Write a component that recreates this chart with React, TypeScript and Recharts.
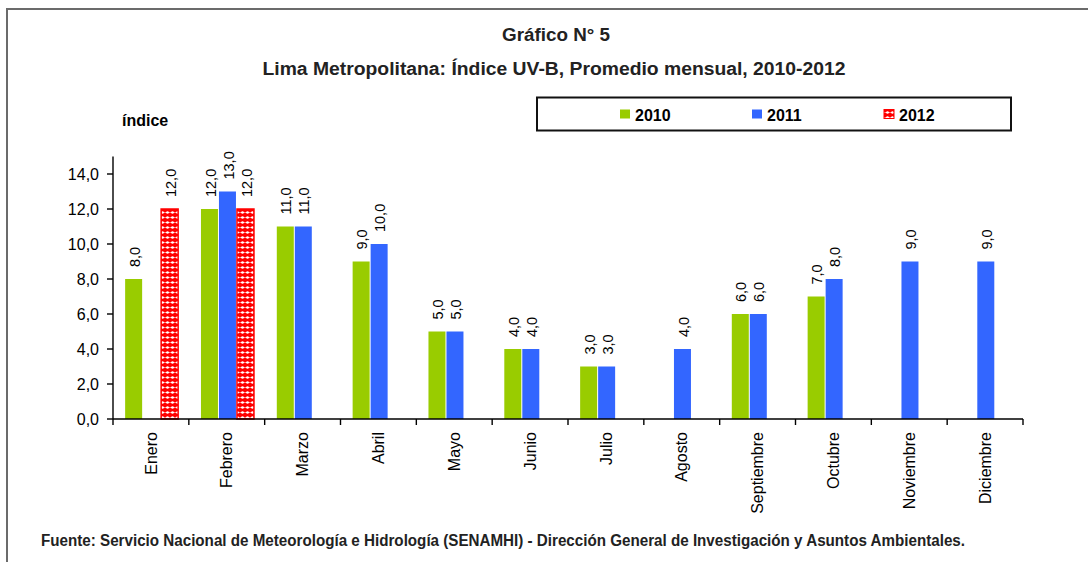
import React from 'react';
import { BarChart, Bar, XAxis, YAxis, LabelList } from 'recharts';

const months = ['Enero', 'Febrero', 'Marzo', 'Abril', 'Mayo', 'Junio', 'Julio', 'Agosto', 'Septiembre', 'Octubre', 'Noviembre', 'Diciembre'];
const uv2010: (number | null)[] = [8, 12, 11, 9, 5, 4, 3, null, 6, 7, null, null];
const uv2011: (number | null)[] = [null, 13, 11, 10, 5, 4, 3, 4, 6, 8, 9, 9];
const uv2012: (number | null)[] = [12, 12, null, null, null, null, null, null, null, null, null, null];
const yTicks = [0, 2, 4, 6, 8, 10, 12, 14];
const seriesNames = ['2010', '2011', '2012'];
const seriesColors = ['#99CC00', '#3366FF', '#FF0000'];

const data = months.map((m, i) => ({ month: m, y2010: uv2010[i], y2011: uv2011[i], y2012: uv2012[i] }));

const W = 1088;
const H = 562;
const M = { top: 156.5, right: 65, left: 53, bottom: 0 };
const YW = 60;
const XH = 143;
const plotW = W - M.left - M.right - YW;
const band = plotW / months.length;

const SANS = "'Liberation Sans', Arial, sans-serif";
const NARROW = "'Liberation Sans Narrow', 'Arial Narrow', 'Liberation Sans', Arial, sans-serif";

const fmt = (v: number) => v.toFixed(1).replace('.', ',');

const XTick = (props: any) => {
  const { x, y, payload, index } = props;
  const ay = y - 13;
  const half = band / 2;
  return (
    <g>
      <line x1={x - half} x2={x - half} y1={ay} y2={ay + 6} stroke="#000" strokeWidth={1.4} />
      {index === months.length - 1 && (
        <line x1={x + half} x2={x + half} y1={ay} y2={ay + 6} stroke="#000" strokeWidth={1.4} />
      )}
      <text
        x={x}
        y={y}
        transform={`rotate(-90 ${x} ${y})`}
        textAnchor="end"
        dy="0.35em"
        fontSize={16}
        fontFamily={SANS}
        fill="#000"
      >
        {payload.value}
      </text>
    </g>
  );
};

const ValueLabel = (props: any) => {
  const { x, y, width, value } = props;
  if (value == null) return null;
  const cx = Number(x) + Number(width) / 2 + 1;
  const ty = Number(y) - 12;
  return (
    <text
      x={cx}
      y={ty}
      transform={`rotate(-90 ${cx} ${ty})`}
      textAnchor="start"
      dy="0.35em"
      fontSize={14.5}
      fontFamily={SANS}
      fill="#000"
    >
      {fmt(Number(value))}
    </text>
  );
};

export default function App() {
  const legendX0 = 620;
  const legendStep = 132;
  return (
    <div style={{ width: W - 16, height: H - 16 }}>
      <div style={{ position: 'fixed', left: 0, top: 0, width: W, height: H, background: '#fff' }}>
        <svg width={W} height={H} style={{ position: 'absolute', left: 0, top: 0 }}>
          <defs>
            <pattern id="dots2012" patternUnits="userSpaceOnUse" width="5" height="5">
              <rect width="5" height="5" fill="#FF0000" />
              <line x1="0.4" x2="4.6" y1="2.5" y2="2.5" stroke="#fff" strokeWidth="0.9" />
              <circle cx="2.5" cy="2.5" r="1.3" fill="#fff" />
            </pattern>
          </defs>
          <line x1={7} x2={7} y1={8} y2={H} stroke="#6b6b6b" strokeWidth={2} />
          <line x1={6} x2={W} y1={9} y2={9} stroke="#6b6b6b" strokeWidth={2} />
          <text x={556} y={41} textAnchor="middle" fontFamily={NARROW} fontWeight="bold" fontSize={18} fill="#222" textLength={108} lengthAdjust="spacingAndGlyphs">
            Gráfico N° 5
          </text>
          <text x={554} y={75} textAnchor="middle" fontFamily={NARROW} fontWeight="bold" fontSize={18} fill="#222" textLength={583} lengthAdjust="spacingAndGlyphs">
            Lima Metropolitana: Índice UV-B, Promedio mensual, 2010-2012
          </text>
          <text x={122} y={126} fontFamily={SANS} fontWeight="bold" fontSize={16} fill="#000">
            índice
          </text>
          <rect x={537} y={97.5} width={474} height={33} fill="none" stroke="#111" strokeWidth={2} />
          {seriesNames.map((n, i) => (
            <g key={n}>
              <rect
                x={legendX0 + i * legendStep}
                y={109.5}
                width={10}
                height={9}
                fill={i === 2 ? 'url(#dots2012)' : seriesColors[i]}
                stroke={i === 2 ? '#FF0000' : 'none'}
                strokeWidth={1}
              />
              <text x={legendX0 + i * legendStep + 15} y={120.5} fontFamily={SANS} fontWeight="bold" fontSize={16} fill="#000">
                {n}
              </text>
            </g>
          ))}
          <text x={41} y={546} fontFamily={NARROW} fontWeight="bold" fontSize={16} fill="#222" textLength={924} lengthAdjust="spacingAndGlyphs">
            Fuente: Servicio Nacional de Meteorología e Hidrología (SENAMHI) - Dirección General de Investigación y Asuntos Ambientales.
          </text>
        </svg>
        <div style={{ position: 'absolute', left: 0, top: 0 }}>
          <BarChart width={W} height={H} data={data} margin={M} barCategoryGap="16%" barGap={1}>
            <XAxis
              dataKey="month"
              height={XH}
              interval={0}
              tickLine={false}
              tickSize={6}
              tickMargin={7}
              axisLine={{ stroke: '#000', strokeWidth: 1.4 }}
              tick={<XTick />}
            />
            <YAxis
              width={YW}
              domain={[0, 15]}
              ticks={yTicks}
              interval={0}
              tickFormatter={(v: number) => fmt(v)}
              tickSize={6}
              tickMargin={8}
              axisLine={{ stroke: '#000', strokeWidth: 1.4 }}
              tickLine={{ stroke: '#000', strokeWidth: 1.4 }}
              tick={{ fontSize: 16, fill: '#000', fontFamily: SANS }}
            />
            <Bar dataKey="y2010" name={seriesNames[0]} fill={seriesColors[0]} isAnimationActive={false}>
              <LabelList dataKey="y2010" content={ValueLabel} />
            </Bar>
            <Bar dataKey="y2011" name={seriesNames[1]} fill={seriesColors[1]} isAnimationActive={false}>
              <LabelList dataKey="y2011" content={ValueLabel} />
            </Bar>
            <Bar dataKey="y2012" name={seriesNames[2]} fill="url(#dots2012)" stroke={seriesColors[2]} strokeWidth={1.5} isAnimationActive={false}>
              <LabelList dataKey="y2012" content={ValueLabel} />
            </Bar>
          </BarChart>
        </div>
      </div>
    </div>
  );
}
